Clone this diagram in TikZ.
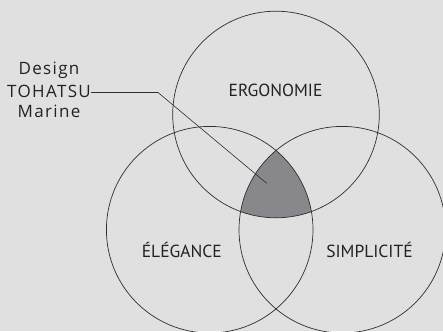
\documentclass[tikz,border=0pt]{standalone}
\usepackage{fontspec}
\setmainfont{PT Sans}
\newfontfamily\leftfont[LetterSpace=8]{Open Sans}
\definecolor{bgc}{HTML}{E0E0E0}
\definecolor{linec}{HTML}{2E2E2E}
\definecolor{fillc}{HTML}{88888C}
\definecolor{textc}{HTML}{222222}
\begin{document}
\begin{tikzpicture}[x=1pt,y=-1pt,
  ring/.style={draw=linec,line width=0.7pt},
  lab/.style={font=\fontsize{17.5}{19}\selectfont,text=textc,inner sep=0pt},
  side/.style={font=\leftfont\fontsize{17}{20}\selectfont,text=textc,inner sep=0pt},
  leader/.style={draw=linec,line width=0.6pt}]
\fill[bgc] (0,0) rectangle (443,331);
\useasboundingbox (0,0) rectangle (443,331);
\coordinate (ct) at (276,114.5);
\coordinate (cl) at (209.7,229.7);
\coordinate (cr) at (342.3,229.7);
\begin{scope}
  \clip (ct) circle[radius=103.3];
  \clip (cl) circle[radius=103.3];
  \fill[fillc] (cr) circle[radius=103.3];
\end{scope}
\clip (0,0) rectangle (443,331);
\draw[ring] (ct) circle[radius=103.3];
\draw[ring] (cl) circle[radius=103.3];
\draw[ring] (cr) circle[radius=103.3];
\node[lab] (erg) at (275.5,90) {ERGONOMIE};
\node[lab] (ele) at (181.8,250) {ÉLÉGANCE};
\node[lab] (sim) at (369.5,250) {SIMPLICITÉ};
\node[side] (des1) at (49,70.5) {Design};
\node[side] (des2) at (49,91) {TOHATSU};
\node[side] (des3) at (49,111.5) {Marine};
\coordinate (tip) at (266.7,183.3);
\coordinate (bend) at (158,92.5);
\draw[leader] (des2.east) ++(0,1.5) -- (bend) -- (tip);
\end{tikzpicture}
\end{document}
